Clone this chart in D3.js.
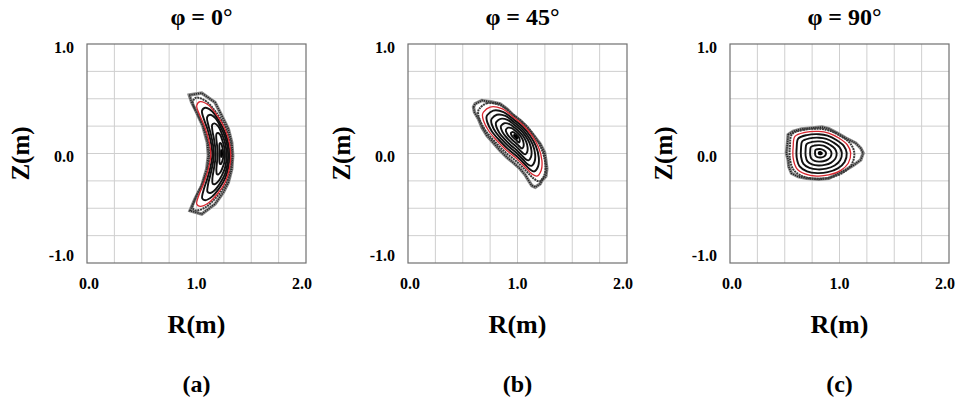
<!DOCTYPE html>
<html>
<head>
<meta charset="utf-8">
<script src="https://cdn.jsdelivr.net/npm/d3@7"></script>
<style>
  body { margin: 0; background: #fff; }
  svg text { font-family: 'Liberation Serif', 'Times New Roman', Times, serif; font-weight: 700; fill: #000; }
</style>
</head>
<body>
<svg id="fig" width="960" height="405"></svg>
<script>
var titles = ["φ = 0°", "φ = 45°", "φ = 90°"],
    captions = ["(a)", "(b)", "(c)"],
    rTicks = [0.0, 1.0, 2.0],
    zTicks = [-1.0, 0.0, 1.0];

// outer (chaotic) edge and red surface, [R, Z] in m
var outerA = [[0.934,0.534],[1.048,0.552],[1.169,0.467],[1.231,0.345],[1.291,0.224],[1.322,0.101],[1.331,-0.02],
              [1.322,-0.142],[1.291,-0.264],[1.245,-0.355],[1.169,-0.461],[1.048,-0.553],[0.941,-0.522],[0.986,-0.416],
              [1.048,-0.294],[1.093,-0.142],[1.108,-0.02],[1.099,0.101],[1.057,0.254],[1.002,0.375],[0.956,0.467]];
var redA = [[1.032,0.473],[1.108,0.443],[1.19,0.345],[1.261,0.224],[1.3,0.101],[1.313,-0.02],[1.3,-0.142],
            [1.261,-0.264],[1.19,-0.37],[1.108,-0.452],[1.032,-0.483],[1.002,-0.461],[1.026,-0.37],[1.069,-0.264],
            [1.108,-0.142],[1.13,-0.02],[1.117,0.101],[1.078,0.238],[1.032,0.345],[1.002,0.437]];
var axisA = [1.23, 0.0],
    bendA = [0.49, 0.0],
    levelsA = [0.18, 0.36, 0.54, 0.71, 0.86],
    edgeA = 1.1;

var outerB = [[0.598,0.424],[0.613,0.454],[0.674,0.485],[0.765,0.47],[0.841,0.454],[0.902,0.409],[0.963,0.348],
              [1.024,0.302],[1.085,0.241],[1.146,0.165],[1.207,0.088],[1.247,0.012],[1.259,-0.064],[1.268,-0.14],
              [1.259,-0.207],[1.223,-0.247],[1.207,-0.277],[1.162,-0.308],[1.131,-0.293],[1.101,-0.247],[1.07,-0.195],
              [1.024,-0.14],[0.963,-0.085],[0.902,-0.034],[0.841,0.027],[0.78,0.098],[0.72,0.165],[0.674,0.241],
              [0.643,0.317],[0.607,0.378]];
var redB = [[0.689,0.378],[0.75,0.424],[0.857,0.409],[0.963,0.332],[1.055,0.256],[1.131,0.165],[1.192,0.058],
            [1.223,-0.064],[1.216,-0.155],[1.177,-0.207],[1.131,-0.186],[1.07,-0.125],[0.994,-0.049],[0.902,0.027],
            [0.811,0.119],[0.735,0.21],[0.689,0.302],[0.68,0.354]];
var axisB = [0.985, 0.155],
    levelsB = [0.15, 0.3, 0.45, 0.6, 0.74, 0.88],
    edgeB = 1.13;

var outerC = [[0.531,0.172],[0.577,0.202],[0.654,0.224],[0.747,0.233],[0.84,0.242],[0.901,0.227],[0.978,0.187],
              [1.056,0.141],[1.148,0.095],[1.194,0.049],[1.216,0.003],[1.194,-0.058],[1.133,-0.104],[1.056,-0.15],
              [0.963,-0.196],[0.901,-0.227],[0.809,-0.236],[0.70,-0.227],[0.623,-0.212],[0.562,-0.181],[0.537,-0.12],
              [0.531,-0.058],[0.515,0.003],[0.525,0.095]];
var redC = [[0.593,0.156],[0.685,0.193],[0.809,0.202],[0.901,0.187],[0.994,0.141],[1.071,0.08],[1.102,0.003],
            [1.08,-0.089],[1.009,-0.156],[0.901,-0.196],[0.793,-0.206],[0.685,-0.187],[0.608,-0.135],[0.577,-0.043],
            [0.577,0.064]];
var axisC = [0.824, 0.003],
    levelsC = [0.19, 0.37, 0.54, 0.71, 0.87],
    edgeC = 1.12;

var panels = [
    {outer: outerA, red: redA, axis: axisA, bend: bendA, levels: levelsA, edge: edgeA},
    {outer: outerB, red: redB, axis: axisB, bend: null, levels: levelsB, edge: edgeB},
    {outer: outerC, red: redC, axis: axisC, bend: null, levels: levelsC, edge: edgeC}
];

var panelLeft = [87, 408, 730],
    panelTop = 44,
    size = 219,
    gridStep = 0.25,
    serif = "'Liberation Serif', 'Times New Roman', Times, serif";

var svg = d3.select("#fig");

// nested surface: shrink the reference curve toward the magnetic axis
// (in polar coords about the bend centre for the crescent)
function surface(ref, axis, bend, rho) {
    if (!bend) {
        return ref.map(function(p) {
            return [axis[0] + rho * (p[0] - axis[0]), axis[1] + rho * (p[1] - axis[1])];
        });
    }
    var ta = Math.atan2(axis[1] - bend[1], axis[0] - bend[0]),
        da = Math.hypot(axis[0] - bend[0], axis[1] - bend[1]);
    return ref.map(function(p) {
        var t = Math.atan2(p[1] - bend[1], p[0] - bend[0]),
            d = Math.hypot(p[0] - bend[0], p[1] - bend[1]),
            t2 = ta + rho * (t - ta),
            d2 = da + rho * (d - da);
        return [bend[0] + d2 * Math.cos(t2), bend[1] + d2 * Math.sin(t2)];
    });
}

panels.forEach(function(pd, i) {
    var x = d3.scaleLinear().domain([0, 2]).range([0, size]),
        y = d3.scaleLinear().domain([-1, 1]).range([size, 0]);

    var g = svg.append("g")
        .attr("transform", "translate(" + panelLeft[i] + "," + panelTop + ")");

    var smooth = d3.line().x(function(d) { return x(d[0]); })
                          .y(function(d) { return y(d[1]); })
                          .curve(d3.curveCatmullRomClosed.alpha(0.5));
    var rough = d3.line().x(function(d) { return x(d[0]); })
                         .y(function(d) { return y(d[1]); })
                         .curve(d3.curveLinearClosed);

    g.selectAll(".gv").data(d3.range(gridStep, 2, gridStep)).enter()
        .append("line").attr("class", "gv")
        .attr("x1", function(d) { return x(d); }).attr("x2", function(d) { return x(d); })
        .attr("y1", 0).attr("y2", size)
        .attr("stroke", "#cfcfcf").attr("stroke-width", 1);

    g.selectAll(".gh").data(d3.range(-1 + gridStep, 1, gridStep)).enter()
        .append("line").attr("class", "gh")
        .attr("x1", 0).attr("x2", size)
        .attr("y1", function(d) { return y(d); }).attr("y2", function(d) { return y(d); })
        .attr("stroke", "#cfcfcf").attr("stroke-width", 1);

    g.append("rect")
        .attr("width", size).attr("height", size)
        .attr("fill", "none").attr("stroke", "#707070").attr("stroke-width", 1.2);

    // chaotic edge
    g.append("path").attr("d", rough(pd.outer))
        .attr("fill", "none").attr("stroke", "#8a8a8a").attr("stroke-width", 3.4);
    g.append("path").attr("d", rough(pd.outer))
        .attr("fill", "none").attr("stroke", "#222").attr("stroke-width", 1.6)
        .attr("stroke-dasharray", "1.2 1");

    g.append("path").attr("d", smooth(surface(pd.red, pd.axis, pd.bend, pd.edge)))
        .attr("fill", "none").attr("stroke", "#3a3a3a").attr("stroke-width", 2)
        .attr("stroke-dasharray", "2 0.7");

    g.selectAll(".surf").data(pd.levels).enter()
        .append("path").attr("class", "surf")
        .attr("d", function(r) { return smooth(surface(pd.red, pd.axis, pd.bend, r)); })
        .attr("fill", "none").attr("stroke", "#111").attr("stroke-width", 1.9);

    g.append("path").attr("d", smooth(pd.red))
        .attr("fill", "none").attr("stroke", "#d8262e").attr("stroke-width", 1.3);

    g.append("path").attr("d", smooth(surface(pd.red, pd.axis, pd.bend, 0.06)))
        .attr("fill", "#000").attr("stroke", "#000").attr("stroke-width", 1.5);

    // labels
    function label(sel, px) {
        return sel.attr("font-family", serif).attr("font-weight", "bold")
                  .attr("font-size", px).attr("text-anchor", "middle");
    }

    label(g.selectAll(".rt").data(rTicks).enter().append("text").attr("class", "rt"), 16)
        .attr("x", function(d, k) { return x(d) + [2, 0, -4][k]; })
        .attr("y", size + 26)
        .text(function(d) { return d.toFixed(1); });

    label(g.selectAll(".zt").data(zTicks).enter().append("text").attr("class", "zt"), 16)
        .attr("text-anchor", "end")
        .attr("x", -13)
        .attr("y", function(d, k) { return y(d) + [-2, 8, 9][k]; })
        .text(function(d) { return d.toFixed(1); });

    label(g.append("text"), 24)
        .attr("x", size / 2 + 5).attr("y", -19)
        .text(titles[i]);

    label(g.append("text"), 25)
        .attr("transform", "translate(" + (-58) + "," + (size / 2) + ") rotate(-90)")
        .text("Z(m)");

    label(g.append("text"), 26)
        .attr("x", size / 2).attr("y", 289)
        .text("R(m)");

    label(g.append("text"), 24)
        .attr("x", size / 2).attr("y", 348)
        .text(captions[i]);
});
</script>
</body>
</html>
